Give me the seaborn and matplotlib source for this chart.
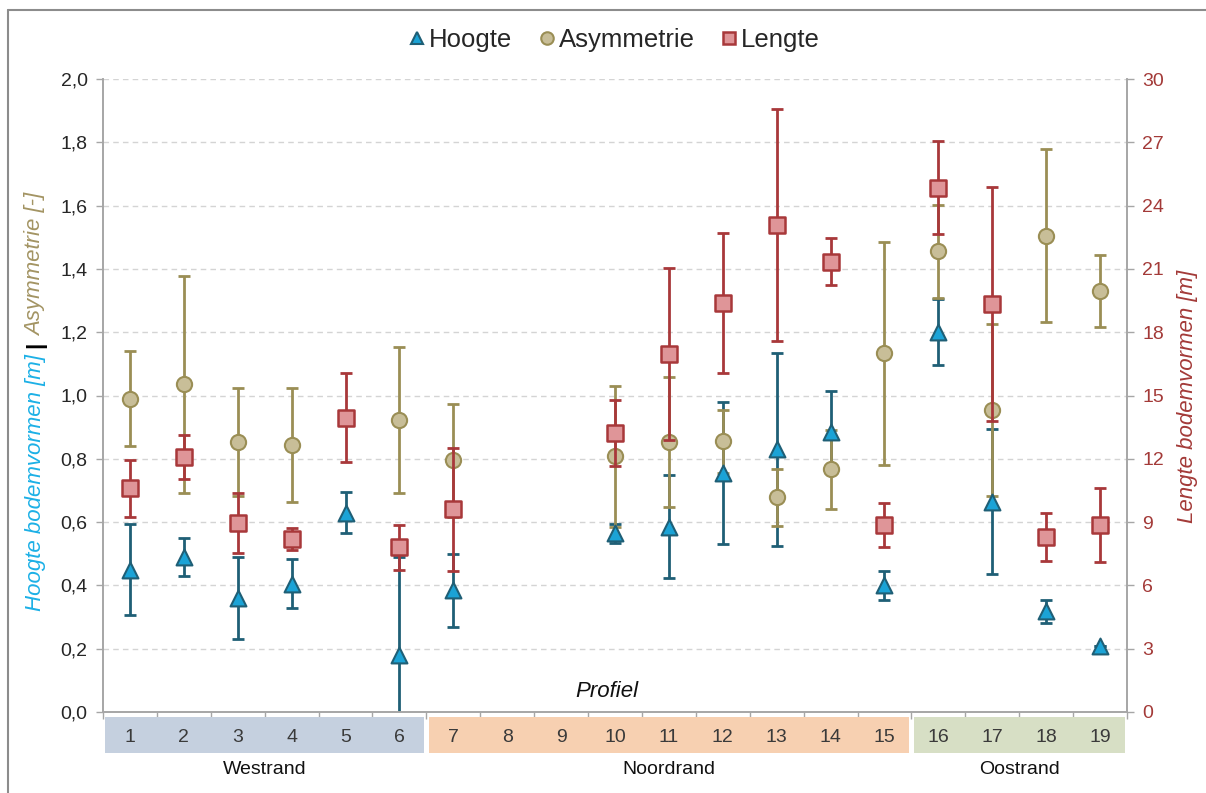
import numpy as np
import pandas as pd
import matplotlib
matplotlib.use("Agg")
import matplotlib.pyplot as plt
from matplotlib.lines import Line2D
from matplotlib.patches import Rectangle
import seaborn as sns

# ---------------- data ----------------
profiel = list(range(1, 20))
hoogte = [0.45, 0.49, 0.36, 0.405, 0.63, 0.18, 0.385, np.nan, np.nan, 0.565,
          0.585, 0.755, 0.83, 0.885, 0.40, 1.20, 0.665, 0.318, 0.21]
hoogte_err = [0.145, 0.06, 0.13, 0.077, 0.065, 0.31, 0.115, np.nan, np.nan, 0.03,
              0.163, 0.225, 0.305, 0.13, 0.047, 0.105, 0.23, 0.036, 0.0]
asym = [0.99, 1.035, 0.853, 0.845, np.nan, 0.923, 0.795, np.nan, np.nan, 0.808,
        0.853, 0.855, 0.678, 0.767, 1.133, 1.455, 0.955, 1.505, 1.33]
asym_err = [0.15, 0.343, 0.172, 0.18, np.nan, 0.23, 0.178, np.nan, np.nan, 0.222,
            0.205, 0.10, 0.09, 0.125, 0.352, 0.148, 0.272, 0.273, 0.113]
lengte = [10.6, 12.1, 8.96, 8.2, 13.95, 7.8, 9.6, np.nan, np.nan, 13.22,
          16.97, 19.38, 23.08, 21.35, 8.85, 24.85, 19.34, 8.3, 8.85]
lengte_err = [1.35, 1.05, 1.42, 0.5, 2.1, 1.05, 2.9, np.nan, np.nan, 1.57,
              4.07, 3.3, 5.5, 1.1, 1.05, 2.2, 5.55, 1.12, 1.75]

group_names = ["Westrand", "Noordrand", "Oostrand"]
group_first = [1, 7, 16]
group_last = [6, 15, 19]
group_colors = ["#c5d0df", "#f7d0b1", "#d7dfc5"]

left_ticks = [0.0, 0.2, 0.4, 0.6, 0.8, 1.0, 1.2, 1.4, 1.6, 1.8, 2.0]
right_ticks = [0, 3, 6, 9, 12, 15, 18, 21, 24, 27, 30]

# ---------------- style ----------------
sns.set_style("white")
plt.rcParams["font.family"] = ["Liberation Sans", "DejaVu Sans"]

C_H_FILL, C_H_EDGE = "#1ba3d6", "#1f5f76"
C_A_FILL, C_A_EDGE = "#c8be98", "#9a8e55"
C_L_FILL, C_L_EDGE = "#df9598", "#a8383a"
C_CYAN = "#1cb0e6"
C_TAN = "#a39463"
C_RED = "#a33a38"
GRID = "#d4d4d4"
SPINE = "#a6a6a6"

W, H = 1206, 793
fig = plt.figure(figsize=(W / 100, H / 100), dpi=100)
ax = fig.add_axes([103 / W, 1 - 712 / H, (1127 - 103) / W, (712 - 79) / H])
ax2 = ax.twinx()

df = pd.DataFrame({"profiel": profiel, "hoogte": hoogte, "hoogte_err": hoogte_err,
                   "asym": asym, "asym_err": asym_err,
                   "lengte": lengte, "lengte_err": lengte_err})

eb_kw = dict(fmt="none", elinewidth=2.0, capsize=4, capthick=2.0)

# Hoogte
ax.errorbar(df["profiel"], df["hoogte"], yerr=df["hoogte_err"], ecolor=C_H_EDGE,
            zorder=2, **eb_kw)
# Asymmetrie
ax.errorbar(df["profiel"], df["asym"], yerr=df["asym_err"], ecolor=C_A_EDGE,
            zorder=2, **eb_kw)
sns.scatterplot(data=df, x="profiel", y="hoogte", ax=ax, marker="^", s=130,
                color=C_H_FILL, edgecolor=C_H_EDGE, linewidth=1.5, zorder=4, legend=False)
sns.scatterplot(data=df, x="profiel", y="asym", ax=ax, marker="o", s=120,
                color=C_A_FILL, edgecolor=C_A_EDGE, linewidth=1.5, zorder=4, legend=False)
# Lengte on secondary axis
ax2.errorbar(df["profiel"], df["lengte"], yerr=df["lengte_err"], ecolor=C_L_EDGE,
             zorder=2, **eb_kw)
sns.scatterplot(data=df, x="profiel", y="lengte", ax=ax2, marker="s", s=120,
                color=C_L_FILL, edgecolor=C_L_EDGE, linewidth=1.8, zorder=4, legend=False)

# ---------------- axes ----------------
ax.set_xlim(0.5, 19.5)
ax.set_ylim(0, 2.0)
ax2.set_ylim(0, 30)
ax.set_yticks(left_ticks)
ax.set_yticklabels([f"{v:.1f}".replace(".", ",") for v in left_ticks], fontsize=14, color="#262626")
ax2.set_yticks(right_ticks)
ax2.set_yticklabels([str(v) for v in right_ticks], fontsize=14, color=C_RED)
ax.set_xticks(np.arange(0.5, 20, 1.0))
ax.set_xticklabels([])
ax.set_xlabel("")
ax.set_ylabel("")
ax2.set_ylabel("")

ax.tick_params(axis="y", direction="out", length=5, width=1, color=SPINE, pad=6, left=True)
ax2.tick_params(axis="y", direction="out", length=5, width=1, color=SPINE, pad=6, right=True)
ax.tick_params(axis="x", direction="out", length=5, width=1, color=SPINE, bottom=True)

ax.yaxis.grid(True, linestyle=(0, (4, 3)), color=GRID, linewidth=1)
ax.xaxis.grid(False)
ax.set_axisbelow(True)

for a in (ax, ax2):
    a.spines["top"].set_visible(False)
    for s in ("left", "right", "bottom"):
        a.spines[s].set_color(SPINE)
        a.spines[s].set_linewidth(1.2)

# ---------------- category bands ----------------
trans = ax.get_xaxis_transform()
band_y0 = -(753 - 712) / (712 - 79)
band_h = (753 - 717) / (712 - 79)
gap = 0.04
for name, f, l, col in zip(group_names, group_first, group_last, group_colors):
    ax.add_patch(Rectangle((f - 0.5 + gap, band_y0), (l - f + 1) - 2 * gap, band_h,
                           transform=trans, facecolor=col, edgecolor="none",
                           clip_on=False, zorder=1))
    ax.text((f + l) / 2, -(770 - 712) / (712 - 79), name, transform=trans,
            ha="center", va="center", fontsize=14, color="#111111")
for p in profiel:
    ax.text(p, -(737 - 712) / (712 - 79), str(p), transform=trans,
            ha="center", va="center", fontsize=14, color="#3a3a3a", zorder=3)

ax.text(9.85, 0.033, "Profiel", transform=trans, ha="center", va="center",
        fontsize=16, style="italic", color="#111111")

# ---------------- right label ----------------
fig.text(1188 / W, 1 - 396 / H, "Lengte bodemvormen [m]", rotation=90,
         ha="center", va="center", fontsize=16, style="italic", color=C_RED)

# ---------------- left multi-colour label ----------------
parts = [("Hoogte bodemvormen [m]", C_CYAN, "italic", "normal"),
         ("|", "#000000", "normal", "bold"),
         ("Asymmetrie [-]", C_TAN, "italic", "normal")]
xlab = 36 / W
texts = []
for s, c, st, wt in parts:
    texts.append(fig.text(xlab, 0.5, s, rotation=90, ha="center", va="bottom",
                          fontsize=16, style=st, weight=wt, color=c))
fig.canvas.draw()
r = fig.canvas.get_renderer()
heights = [t.get_window_extent(r).height for t in texts]
sep = 6
total = sum(heights) + sep * (len(heights) - 1)
y_start = (H - 402) - total / 2
y = y_start
for t, h in zip(texts, heights):
    t.set_position((xlab, y / H))
    y += h + sep

# ---------------- legend ----------------
handles = [Line2D([], [], linestyle="none", marker="^", markersize=9,
                  markerfacecolor=C_H_FILL, markeredgecolor=C_H_EDGE, markeredgewidth=1.5),
           Line2D([], [], linestyle="none", marker="o", markersize=9,
                  markerfacecolor=C_A_FILL, markeredgecolor=C_A_EDGE, markeredgewidth=1.5),
           Line2D([], [], linestyle="none", marker="s", markersize=9,
                  markerfacecolor=C_L_FILL, markeredgecolor=C_L_EDGE, markeredgewidth=1.8)]
fig.legend(handles, ["Hoogte", "Asymmetrie", "Lengte"], loc="center",
           bbox_to_anchor=(614 / W, 1 - 40 / H), ncol=3, frameon=False,
           fontsize=18.5, handletextpad=0.1, columnspacing=1.0, handlelength=0.7)

# ---------------- outer border ----------------
fig.add_artist(Line2D([8 / W, 8 / W], [0, 1 - 10 / H], transform=fig.transFigure,
                      color="#8c8c8c", linewidth=1.5))
fig.add_artist(Line2D([8 / W, 1], [1 - 10 / H, 1 - 10 / H], transform=fig.transFigure,
                      color="#8c8c8c", linewidth=1.5))

fig.savefig("out.png", dpi=100)
